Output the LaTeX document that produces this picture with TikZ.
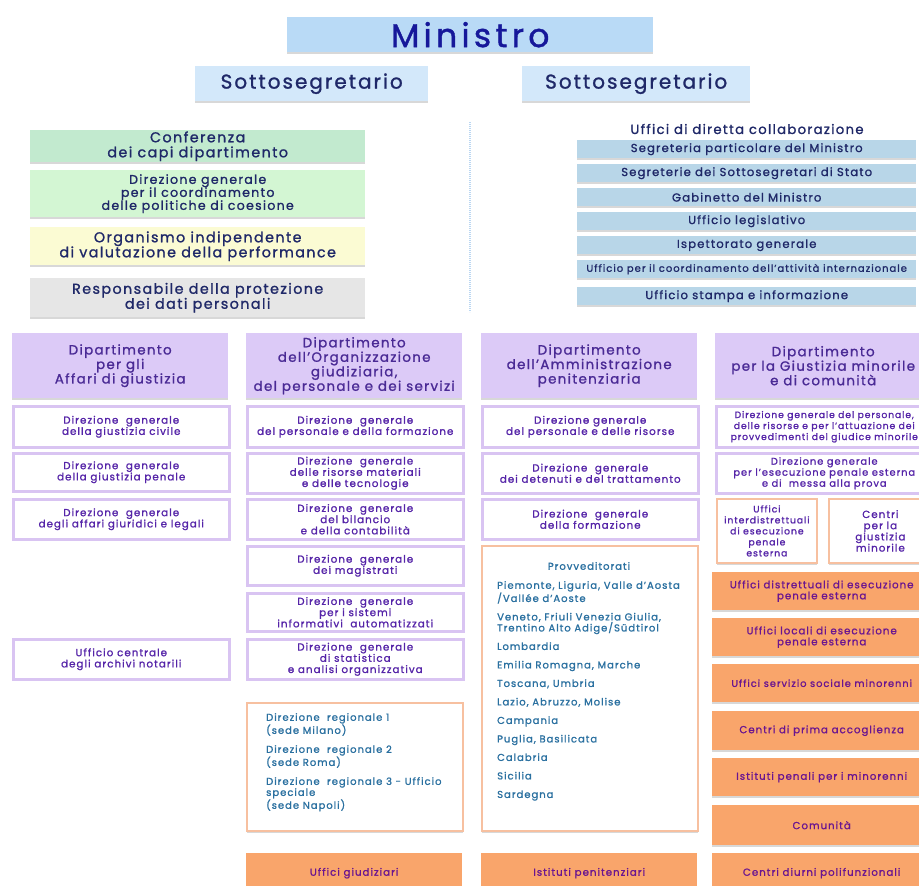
\documentclass[tikz,border=0pt]{standalone}
\usepackage{fontspec}
\setmainfont{Poppins}[LetterSpace=10,UprightFeatures={FakeBold=1.2}]
\usetikzlibrary{shadows}
\definecolor{minblu}{HTML}{B9DAF6}
\definecolor{sotblu}{HTML}{D3E8FA}
\definecolor{mintxt}{HTML}{16189A}
\definecolor{navy}{HTML}{1F2868}
\definecolor{verdeA}{HTML}{C2EACF}
\definecolor{verdeB}{HTML}{D3F6D3}
\definecolor{giallo}{HTML}{FBFBD3}
\definecolor{grigio}{HTML}{E6E6E6}
\definecolor{uffblu}{HTML}{B8D6E8}
\definecolor{viola}{HTML}{DCCAF7}
\definecolor{lilla}{HTML}{D9C4F2}
\definecolor{dipttxt}{HTML}{4A2A95}
\definecolor{dirtxt}{HTML}{5524A8}
\definecolor{pesca}{HTML}{F7C0A0}
\definecolor{arancio}{HTML}{F9A56B}
\definecolor{arctxt}{HTML}{6A1590}
\definecolor{teal}{HTML}{2A70A0}
\definecolor{sepblu}{HTML}{B9D6F2}
\begin{document}
\begin{tikzpicture}[x=1pt,y=-1pt,
box/.style={anchor=north west,inner sep=1pt,align=center,minimum width=216pt},
ombra/.style={drop shadow={shadow xshift=0pt,shadow yshift=-2pt,opacity=0.25,fill=black!60}},
ministro/.style={box,ombra,fill=minblu,text=mintxt,font=\fontsize{33}{36}\selectfont\addfontfeature{LetterSpace=13}},
sotto/.style={box,ombra,fill=sotblu,text=navy,font=\fontsize{20}{22}\selectfont},
staff/.style={box,ombra,fill=#1,text=navy,minimum width=335pt,font=\fontsize{14.3}{15}\selectfont},
uff/.style={box,ombra,fill=uffblu,text=navy,minimum width=339pt,minimum height=18pt,font=\fontsize{11.6}{12}\selectfont},
dipt/.style={box,ombra,fill=viola,text=dipttxt,minimum height=65pt,font=\fontsize{13.4}{14.5}\selectfont},
dir/.style={box,ombra,fill=white,draw=lilla,line width=2.5pt,text=dirtxt,font=\fontsize{10.3}{11.2}\selectfont},
cornice/.style={box,ombra,fill=white,draw=pesca,line width=1.8pt,text=dirtxt,font=\fontsize{10.3}{11.2}\selectfont},
pieno/.style={box,ombra,fill=arancio,text=arctxt,minimum width=219pt,minimum height=38pt,font=\fontsize{10.2}{11}\selectfont},
elenco/.style={anchor=north west,inner sep=0pt,align=left,text=teal,font=\fontsize{10}{11}\selectfont},
]
\useasboundingbox (0,0) rectangle (919,886);
\fill[white] (0,0) rectangle (919,886);
\clip (0,0) rectangle (919,886);

% vertice
\node[ministro,minimum width=366pt,minimum height=35pt] (min) at (287,17) {Ministro};
\node[sotto,minimum width=233pt,minimum height=35pt] (sotL) at (195,66) {Sottosegretario};
\node[sotto,minimum width=228pt,minimum height=35pt] (sotR) at (522,66) {Sottosegretario};

\coordinate (sepA) at (470,122);
\coordinate (sepB) at (470,312);
\draw[sepblu,line width=1.6pt,dash pattern=on 1.2pt off 0.8pt] (sepA) -- (sepB);

% organi di staff
\node[staff=verdeA,minimum height=32pt] (conf) at (30,130) {Conferenza\\dei capi dipartimento};
\node[staff=verdeB,minimum height=47pt,font=\fontsize{12.6}{13}\selectfont] (coes) at (30,170)
    {Direzione generale\\per il coordinamento\\delle politiche di coesione};
\node[staff=giallo,minimum height=38pt] (oiv) at (30,227) {Organismo indipendente\\di valutazione della performance};
\node[staff=grigio,minimum height=39pt] (priv) at (30,278) {Responsabile della protezione\\dei dati personali};

% uffici di diretta collaborazione
\node[text=navy,font=\fontsize{13.2}{14}\selectfont] (udc) at (747,129) {Uffici di diretta collaborazione};
\foreach \y/\t/\n in {140/Segreteria particolare del Ministro/seg,
    164/Segreterie dei Sottosegretari di Stato/segs,
    188/Gabinetto del Ministro/gab,
    212/Ufficio legislativo/leg,
    236/Ispettorato generale/isp,
    287/Ufficio stampa e informazione/stam}
  \node[uff] (\n) at (577,\y) {\t};
\node[uff,font=\fontsize{10}{11}\selectfont] (int) at (577,260)
    {Ufficio per il coordinamento dell’attività internazionale};

% dipartimenti
\node[dipt] (dag) at (12,333) {Dipartimento\\per gli\\Affari di giustizia};
\node[dipt] (dog) at (246,333) {Dipartimento\\dell’Organizzazione\\giudiziaria,\\del personale e dei servizi};
\node[dipt] (dap) at (481,333) {Dipartimento\\dell’Amministrazione\\penitenziaria};
\node[dipt] (dgm) at (715,333) {Dipartimento\\per la Giustizia minorile\\e di comunità};

% Affari di giustizia
\node[dir,minimum height=41pt] (civ) at (12,405) {Direzione~~generale\\della giustizia civile};
\node[dir,minimum height=38pt] (pen) at (12,452) {Direzione~~generale\\della giustizia penale};
\node[dir,minimum height=40pt] (leg) at (12,498) {Direzione~~generale\\degli affari giuridici e legali};
\node[dir,minimum height=40pt] (not) at (12,638) {Ufficio centrale\\degli archivi notarili};

% Organizzazione giudiziaria
\node[dir,minimum height=41pt] (form) at (246,405) {Direzione~~generale\\del personale e della formazione};
\node[dir,minimum height=40pt] (ris) at (246,452) {Direzione~~generale\\delle risorse materiali\\e delle tecnologie};
\node[dir,minimum height=40pt] (bil) at (246,498) {Direzione~~generale\\del bilancio\\e della contabilità};
\node[dir,minimum height=39pt] (mag) at (246,545) {Direzione~~generale\\dei magistrati};
\node[dir,minimum height=38pt] (sia) at (246,592) {Direzione~~generale\\per i sistemi\\informativi~~automatizzati};
\node[dir,minimum height=40pt] (stat) at (246,638) {Direzione~~generale\\di statistica\\e analisi organizzativa};
\node[cornice,minimum height=128pt] (reg) at (246,702) {};
\node[elenco] (regl) at (266,713) {Direzione~~regionale 1\\(sede Milano)\\[8pt]
    Direzione~~regionale 2\\(sede Roma)\\[8pt]
    Direzione~~regionale 3 - Ufficio\\speciale\\(sede Napoli)};
\node[pieno,minimum width=216pt,minimum height=40pt] (giud) at (246,853) {Uffici giudiziari};

% Amministrazione penitenziaria
\node[dir,minimum height=41pt] (per) at (481,405) {Direzione generale\\del personale e delle risorse};
\node[dir,minimum height=40pt] (det) at (481,452) {Direzione~~generale\\dei detenuti e del trattamento};
\node[dir,minimum height=40pt] (fmz) at (481,498) {Direzione~~generale\\della formazione};
\node[cornice,minimum height=285pt] (prov) at (481,545) {};
\node[text=teal,font=\fontsize{10}{11}\selectfont] (provt) at (589,566) {Provveditorati};
\node[elenco] (provl) at (497,581) {Piemonte, Liguria, Valle d’Aosta\\/Vallée d’Aoste\\[7.5pt]
    Veneto, Friuli Venezia Giulia,\\Trentino Alto Adige/Südtirol\\[7.5pt]
    Lombardia\\[7.5pt]
    Emilia Romagna, Marche\\[7.5pt]
    Toscana, Umbria\\[7.5pt]
    Lazio, Abruzzo, Molise\\[7.5pt]
    Campania\\[7.5pt]
    Puglia, Basilicata\\[7.5pt]
    Calabria\\[7.5pt]
    Sicilia\\[7.5pt]
    Sardegna};
\node[pieno,minimum width=216pt,minimum height=40pt] (ist) at (481,853) {Istituti penitenziari};

% Giustizia minorile e di comunità
\node[dir,minimum height=41pt,font=\fontsize{9.2}{11}\selectfont] (gmp) at (715,405)
    {Direzione generale del personale,\\delle risorse e per l’attuazione dei\\provvedimenti del giudice minorile};
\node[dir,minimum height=40pt,font=\fontsize{9.8}{11}\selectfont] (epe) at (715,452)
    {Direzione generale\\per l’esecuzione penale esterna\\e di~~messa alla prova};
\node[cornice,minimum width=100pt,minimum height=64pt,font=\fontsize{9.3}{11}\selectfont] (uiepe) at (716,498)
    {Uffici\\interdistrettuali\\di esecuzione\\penale\\esterna};
\node[cornice,minimum width=103pt,minimum height=64pt] (cgm) at (828,498) {Centri\\per la\\giustizia\\minorile};
\node[pieno] (udepe) at (712,572) {Uffici distrettuali di esecuzione\\penale esterna};
\node[pieno] (ulepe) at (712,618) {Uffici locali di esecuzione\\penale esterna};
\node[pieno,font=\fontsize{9.8}{11}\selectfont] (ussm) at (712,664) {Uffici servizio sociale minorenni};
\node[pieno,minimum height=39pt] (cpa) at (712,711) {Centri di prima accoglienza};
\node[pieno] (ipm) at (712,758) {Istituti penali per i minorenni};
\node[pieno,minimum height=40pt] (com) at (712,805) {Comunità};
\node[pieno,minimum height=40pt] (cdp) at (712,853) {Centri diurni polifunzionali};
\end{tikzpicture}
\end{document}
